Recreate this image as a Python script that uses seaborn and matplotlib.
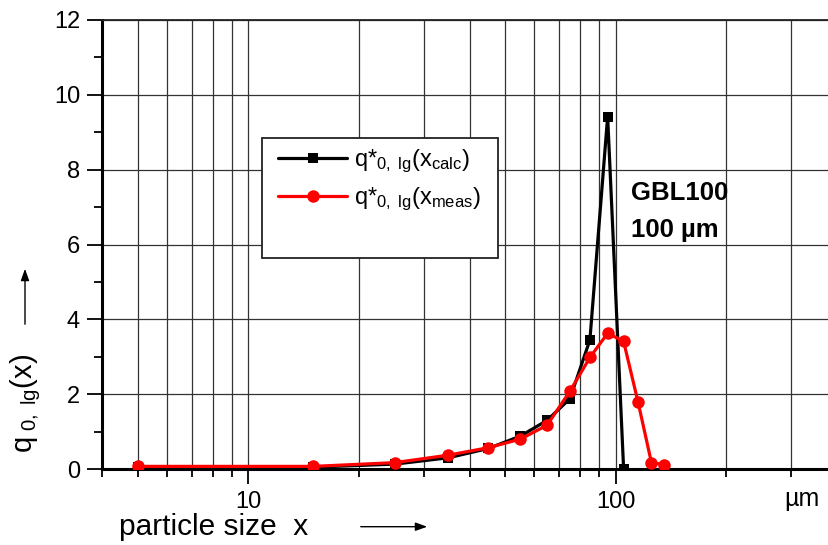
import numpy as np
import pandas as pd
import matplotlib
matplotlib.use("Agg")
import matplotlib.pyplot as plt
from matplotlib.patches import Rectangle, FancyArrowPatch
from matplotlib.ticker import LogLocator, FixedLocator, MultipleLocator, FuncFormatter, NullFormatter
import seaborn as sns

# particle size classes (µm) and density distributions
size_calc = [5, 15, 25, 35, 45, 55, 65, 75, 85, 95, 105]
q_calc = [0.05, 0.05, 0.13, 0.30, 0.55, 0.88, 1.30, 1.88, 3.45, 9.42, 0.0]

size_meas = [5, 15, 25, 35, 45, 55, 65, 75, 85, 95, 105, 115, 125, 135]
q_meas = [0.07, 0.07, 0.17, 0.37, 0.57, 0.80, 1.17, 2.08, 2.98, 3.63, 3.41, 1.78, 0.17, 0.12]

x_ticks = [10, 100]
y_ticks = [0, 2, 4, 6, 8, 10, 12]

calc = pd.DataFrame({"size": size_calc, "q": q_calc})
meas = pd.DataFrame({"size": size_meas, "q": q_meas})

sns.set_style("white")
plt.rcParams["font.family"] = ["Liberation Sans", "DejaVu Sans"]
plt.rcParams["text.color"] = "black"
plt.rcParams["mathtext.fontset"] = "custom"
plt.rcParams["mathtext.rm"] = "Liberation Sans"
plt.rcParams["mathtext.it"] = "Liberation Sans:italic"
plt.rcParams["mathtext.bf"] = "Liberation Sans:bold"

W, H = 829, 545
fig = plt.figure(figsize=(W / 100, H / 100), dpi=100)
ax_left, ax_right, ax_top, ax_bottom = 102.3, 837.0, 20.0, 469.0
ax = fig.add_axes([ax_left / W, (H - ax_bottom) / H,
                   (ax_right - ax_left) / W, (ax_bottom - ax_top) / H])

lab_calc = r"q*$_{\mathrm{0,\ lg}}$(x$_{\mathrm{calc}}$)"
lab_meas = r"q*$_{\mathrm{0,\ lg}}$(x$_{\mathrm{meas}}$)"

sns.lineplot(data=calc, x="size", y="q", ax=ax, color="black", lw=2.3,
             marker="s", markersize=7.8, markeredgewidth=0, label=lab_calc,
             zorder=3)
sns.lineplot(data=meas, x="size", y="q", ax=ax, color="#ff0000", lw=2.3,
             marker="o", markersize=9, markeredgewidth=0, label=lab_meas,
             zorder=4)

ax.set_xscale("log")
ax.set_xlim(4, 400)
ax.set_ylim(0, 12)

ax.xaxis.set_major_locator(FixedLocator(x_ticks))
ax.xaxis.set_minor_locator(LogLocator(base=10, subs=np.arange(2, 10)))
ax.xaxis.set_major_formatter(FuncFormatter(lambda v, p: f"{v:g}"))
ax.xaxis.set_minor_formatter(NullFormatter())
ax.yaxis.set_major_locator(FixedLocator(y_ticks))
ax.yaxis.set_minor_locator(MultipleLocator(1))

ax.tick_params(axis="both", which="both", bottom=True, left=True,
               top=False, right=False)
ax.tick_params(axis="both", which="major", direction="out", length=11,
               width=1.3, labelsize=17, color="black", labelcolor="black")
ax.tick_params(axis="both", which="minor", direction="out", length=5.5,
               width=1.3, color="black")
ax.tick_params(axis="x", which="major", pad=5)
ax.tick_params(axis="y", which="major", pad=5)

ax.grid(True, axis="x", which="both", color="#333333", lw=0.9)
ax.grid(True, axis="y", which="major", color="#333333", lw=0.9)
ax.set_axisbelow(True)

for side in ["left", "bottom"]:
    ax.spines[side].set_linewidth(2.2)
    ax.spines[side].set_color("black")
ax.spines["top"].set_linewidth(1.3)
ax.spines["top"].set_color("#222222")
ax.spines["right"].set_visible(False)

ax.set_xlabel("")
ax.set_ylabel("")

# legend inside its own box
leg_box = Rectangle((261.5 / W, (H - 257.5) / H), (498.3 - 261.5) / W,
                    (257.5 - 137.5) / H, transform=fig.transFigure,
                    facecolor="white", edgecolor="#222222", lw=1.3, zorder=5)
ax.add_patch(leg_box)
leg = ax.legend(loc="upper left", bbox_to_anchor=(277.7 / W, (H - 148) / H),
                bbox_transform=fig.transFigure, frameon=False, fontsize=17,
                handlelength=2.95, handletextpad=0.3, borderpad=0,
                borderaxespad=0, labelspacing=0.45)
leg.set_zorder(6)

# annotation text
ax.text(630.7 / W, (H - 200) / H, "GBL100", transform=fig.transFigure,
        fontsize=18.5, fontweight="bold", ha="left", va="baseline", color="black")
ax.text(630.7 / W, (H - 237.3) / H, "100 µm", transform=fig.transFigure,
        fontsize=18.5, fontweight="bold", ha="left", va="baseline", color="black")
fig.text(802 / W, (H - 506) / H, "µm", fontsize=18, ha="center",
         va="baseline", color="black")

# axis titles with arrows
fig.text(119 / W, (H - 535) / H, "particle size  x", fontsize=21.5,
         ha="left", va="baseline", color="black")
fig.add_artist(FancyArrowPatch(
    (358 / W, (H - 526.7) / H), (430 / W, (H - 526.7) / H),
    transform=fig.transFigure, arrowstyle="-|>,head_length=7,head_width=2.5",
    color="black", lw=1.0, mutation_scale=1))

fig.text(26 / W, (H - 403) / H, r"q$_{\mathrm{\ 0,\ lg}}$(x)", fontsize=21,
         rotation=90, ha="center", va="center", color="black")
fig.add_artist(FancyArrowPatch(
    (25 / W, (H - 327) / H), (25 / W, (H - 266) / H),
    transform=fig.transFigure, arrowstyle="-|>,head_length=7,head_width=2.5",
    color="black", lw=1.0, mutation_scale=1))

fig.savefig("out.png", dpi=100)
